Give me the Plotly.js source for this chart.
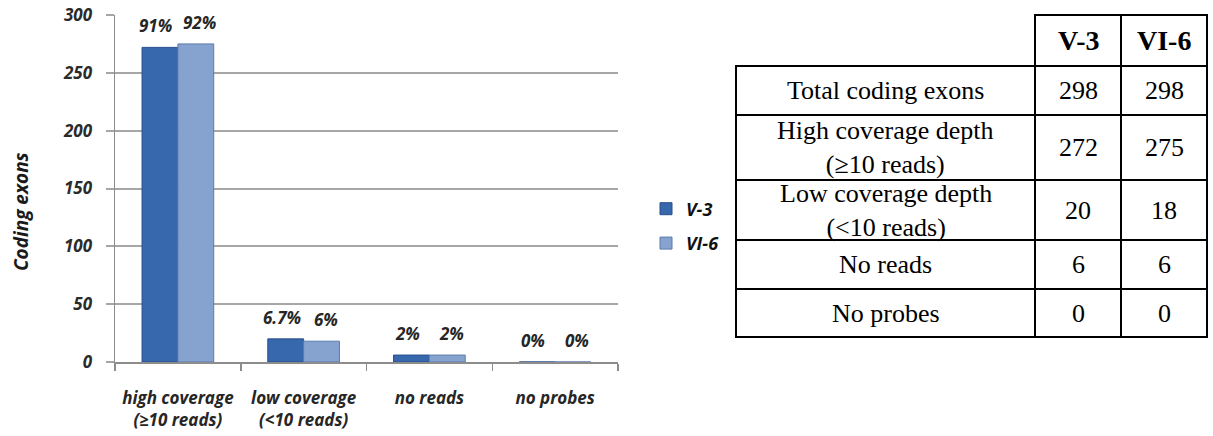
<!DOCTYPE html>
<html>
<head>
<meta charset="utf-8">
<script src="https://cdn.plot.ly/plotly-3.0.1.min.js"></script>
<style>
  html, body { margin: 0; padding: 0; background: #ffffff; }
  #chart { width: 1213px; height: 436px; }
</style>
</head>
<body>
<div id="chart"></div>
<script>
// Coding exon coverage for two samples
const categories = ['high coverage<br>(≥10 reads)', 'low coverage<br>(&lt;10 reads)', 'no reads', 'no probes'];
const seriesNames = ['V-3', 'VI-6'];
const valuesV3 = [272, 20, 6, 0];
const valuesVI6 = [275, 18, 6, 0];
const pctV3 = ['91%', '6.7%', '2%', '0%'];
const pctVI6 = ['92%', '6%', '2%', '0%'];
const yTicks = [0, 50, 100, 150, 200, 250, 300];

// Summary table
const tableHeader = ['', 'V-3', 'VI-6'];
const tableRowLabels = ['Total coding exons', 'High coverage depth<br>(≥10 reads)', 'Low coverage depth<br>(&lt;10 reads)', 'No reads', 'No probes'];
const totalsV3 = 298;
const totalsVI6 = 298;

// ---- layout helpers (pixels -> paper) ----
const W = 1213, H = 436;
const px = v => v / W;
const py = v => 1 - v / H;
const bi = s => '<b><i>' + s + '</i></b>';

const sansFamily = '"Open Sans", Lato, "DejaVu Sans", sans-serif';
const barFont = { family: sansFamily, size: 17, weight: 'bold', style: 'italic', color: '#262626' };
const colorV3 = '#3767ad', edgeV3 = '#284f8e';
const colorVI6 = '#86a3cf', edgeVI6 = '#5d7bab';
const bargap = 0.43;

const traces = [
  {
    type: 'bar', name: bi(seriesNames[0]), x: categories, y: valuesV3,
    marker: { color: colorV3, line: { color: edgeV3, width: 1 } },
    legendgroup: 'a', hoverinfo: 'y'
  },
  {
    type: 'bar', name: bi(seriesNames[1]), x: categories, y: valuesVI6,
    marker: { color: colorVI6, line: { color: edgeVI6, width: 1 } },
    legendgroup: 'b', hoverinfo: 'y'
  }
];

// percentage labels above each bar, placed through the category axis
const annotations = [];
const half = (1 - bargap) / 4;
[[valuesV3, pctV3, -half, -4], [valuesVI6, pctVI6, half, 4]].forEach(([vals, labels, off, nudge]) => {
  vals.forEach((v, i) => {
    annotations.push({
      xref: 'x', yref: 'y', x: i + off, y: v, text: bi(labels[i]),
      showarrow: false, yanchor: 'bottom', yshift: 8, xshift: nudge,
      font: barFont
    });
  });
});

// y-axis title
annotations.push({
  xref: 'paper', yref: 'paper', x: px(21), y: py(212), text: bi('Coding exons'),
  textangle: -90, showarrow: false, xanchor: 'center', yanchor: 'middle',
  font: Object.assign({}, barFont, { size: 19, color: '#1a1a1a' })
});

// ---- table, drawn on its own hidden axis pair in pixel-sized units ----
const colWidths = [299, 86, 86];
const rowHeights = [51, 49, 65, 60, 49, 48];
const tableLeft = 736, tableTop = 15;
const tableW = colWidths.reduce((a, b) => a + b, 0);
const tableH = rowHeights.reduce((a, b) => a + b, 0);
const pad = 3;

const colEdges = [0];
colWidths.forEach(w => colEdges.push(colEdges[colEdges.length - 1] + w));
const rowEdges = [0];
rowHeights.forEach(h => rowEdges.push(rowEdges[rowEdges.length - 1] + h));

const tableBody = tableRowLabels.map((lbl, r) => {
  const v3 = r === 0 ? totalsV3 : valuesV3[r - 1];
  const v6 = r === 0 ? totalsVI6 : valuesVI6[r - 1];
  return [lbl, String(v3), String(v6)];
});
const tableCells = [tableHeader].concat(tableBody);

const shapes = [];
const cellFont = { family: '"Liberation Serif", "Times New Roman", serif', size: 26, color: '#000000' };
tableCells.forEach((row, r) => {
  row.forEach((txt, c) => {
    const x0 = colEdges[c], x1 = colEdges[c + 1];
    const y0 = rowEdges[r], y1 = rowEdges[r + 1];
    const isCorner = (r === 0 && c === 0);
    if (!isCorner) {
      shapes.push({
        type: 'rect', xref: 'x2', yref: 'y2', x0: x0, x1: x1, y0: y0, y1: y1,
        line: { color: '#000000', width: 2 }, fillcolor: 'rgba(0,0,0,0)', layer: 'above'
      });
    }
    if (txt !== '') {
      annotations.push({
        xref: 'x2', yref: 'y2', x: (x0 + x1) / 2, y: (y0 + y1) / 2,
        text: r === 0 ? '<b>' + txt + '</b>' : txt,
        showarrow: false, xanchor: 'center', yanchor: 'middle',
        font: Object.assign({}, cellFont, r === 0 ? { size: 28 } : {})
      });
    }
  });
});

const axisGray = '#8c8c8c';
const layout = {
  width: W, height: H,
  margin: { l: 0, r: 0, t: 0, b: 0 },
  paper_bgcolor: '#ffffff', plot_bgcolor: '#ffffff',
  barmode: 'group', bargap: bargap, bargroupgap: 0,
  showlegend: true,
  legend: {
    x: px(646), y: py(226), xanchor: 'left', yanchor: 'middle',
    traceorder: 'grouped', tracegroupgap: 8,
    font: Object.assign({}, barFont, { size: 18, color: '#111111' }),
    bgcolor: 'rgba(0,0,0,0)'
  },
  xaxis: {
    domain: [px(115), px(618)],
    type: 'category',
    tickmode: 'array', tickvals: categories, ticktext: categories.map(bi),
    tickson: 'boundaries', ticks: 'outside', ticklen: 7, tickwidth: 1.5, tickcolor: axisGray,
    showline: true, linecolor: axisGray, linewidth: 1.5,
    showgrid: false, zeroline: false,
    ticklabelstandoff: 20,
    tickfont: Object.assign({}, barFont, { size: 17 }),
    fixedrange: true
  },
  yaxis: {
    domain: [py(362), py(15)],
    range: [0, 300],
    tickmode: 'array', tickvals: yTicks, ticktext: yTicks.map(v => bi(String(v))),
    ticks: 'outside', ticklen: 8, tickwidth: 2, tickcolor: '#a6a6a6',
    showline: true, linecolor: axisGray, linewidth: 1.5,
    showgrid: true, gridcolor: '#a6a6a6', gridwidth: 2,
    zeroline: false,
    ticklabelstandoff: 10,
    tickfont: Object.assign({}, barFont, { size: 17, color: '#2b2b2b' }),
    fixedrange: true
  },
  xaxis2: {
    domain: [px(tableLeft - pad), px(tableLeft + tableW + pad)],
    range: [-pad, tableW + pad], anchor: 'y2',
    visible: false, fixedrange: true
  },
  yaxis2: {
    domain: [py(tableTop + tableH + pad), py(tableTop - pad)],
    range: [tableH + pad, -pad], anchor: 'x2',
    visible: false, fixedrange: true
  },
  shapes: shapes,
  annotations: annotations
};

// invisible trace so the table axes exist
traces.push({
  type: 'scatter', x: [0, tableW], y: [0, tableH], xaxis: 'x2', yaxis: 'y2',
  mode: 'markers', marker: { opacity: 0 }, showlegend: false, hoverinfo: 'skip'
});

Plotly.newPlot('chart', traces, layout, { displayModeBar: false, staticPlot: true });
</script>
</body>
</html>
